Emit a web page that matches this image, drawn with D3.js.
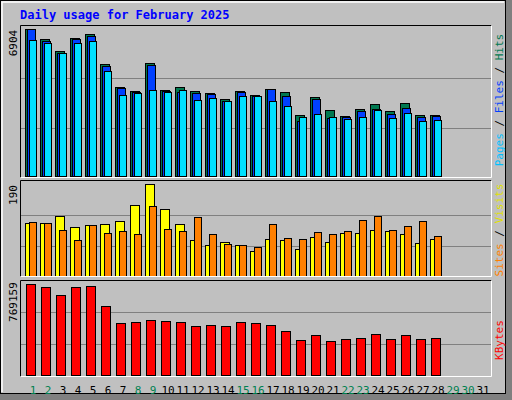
<!DOCTYPE html>
<html><head><meta charset="utf-8">
<script src="https://cdn.jsdelivr.net/npm/d3@7"></script>
<style>body{margin:0;background:#fff}svg{display:block}text{font-family:"DejaVu Sans Mono",monospace}</style>
</head><body><svg id="c" width="512" height="400"></svg>
<script>
const days = d3.range(1,32);
const weekendDays = [1,2,8,9,15,16,22,23,29,30];
const hits  = [6904,6438,5878,6484,6671,5271,4198,4012,5318,4058,4198,4012,3918,3639,4012,3825,4105,3965,2892,3732,3125,2846,3172,3405,3079,3452,2892,2892];
const files = [6904,6344,5785,6438,6578,5178,4152,3965,5225,4012,3965,3918,3872,3545,3965,3779,4105,3779,2612,3639,2752,2799,3079,3172,2939,3219,2799,2846];
const pages = [6391,6251,5785,6251,6344,4945,3825,3918,4058,3965,4058,3592,3685,3545,3779,3779,3545,3312,2799,2939,2799,2706,2799,3125,2752,2986,2612,2659];
const sites = [110,110,125,102,106,108,114,147,190,139,108,76,65,72,65,53,78,76,57,82,72,90,90,96,94,88,69,78];
const visits= [112,110,96,76,106,90,94,88,145,98,94,123,88,67,65,61,108,80,78,92,88,94,116,125,96,104,114,84];
const kbytes= [769159,744000,677000,744000,752000,585000,443000,451000,468000,460000,451000,418000,426000,418000,451000,443000,426000,376000,301000,343000,293000,309000,318000,351000,309000,343000,309000,318000];
const maxLabels = ["6904","190","769159"];

const svg = d3.select("#c");
// frame
svg.append("rect").attr("x",0).attr("y",0).attr("width",512).attr("height",400).attr("fill","#808080");
svg.append("rect").attr("x",0.5).attr("y",0.5).attr("width",505).attr("height",393).attr("fill","#c0c0c0").attr("stroke","#000");
svg.append("path").attr("d","M2,392V2H504").attr("fill","none").attr("stroke","#fff").attr("stroke-width",1.5);
svg.append("text").attr("x",20).attr("y",19).attr("fill","#0000ff").attr("font-weight","bold").attr("font-size",12).text("Daily usage for February 2025");

const x = d3.scaleLinear().domain([1,32]).range([25,490]); // bar left for day
function panel(top,bottom){
  svg.append("rect").attr("x",20.5).attr("y",top+0.5).attr("width",471).attr("height",bottom-top).attr("fill","#c0c0c0");
}
function frame(top,bottom){
  svg.append("path").attr("d",`M20.5,${bottom+0.5}V${top+0.5}H491.5`).attr("fill","none").attr("stroke","#000");
  svg.append("path").attr("d",`M491.5,${top+0.5}V${bottom+0.5}H20.5`).attr("fill","none").attr("stroke","#fff");
}
function grid(y,max){
  [max/3,2*max/3].forEach(v=>svg.append("line").attr("x1",21).attr("x2",491).attr("y1",Math.round(y(v))+0.5).attr("y2",Math.round(y(v))+0.5).attr("stroke","#808080"));
}
function bars(data,y,off,w,color){
  svg.append("g").selectAll("rect").data(data).join("rect")
    .attr("x",(d,i)=>x(i+1)+off+0.5).attr("y",d=>Math.round(y(d))+0.5)
    .attr("width",w).attr("height",d=>y(0)-Math.round(y(d))-1)
    .attr("fill",color).attr("stroke","#000");
}
function ylabel(txt,yc){
  svg.append("text").attr("transform",`translate(17,${yc}) rotate(-90)`).attr("text-anchor","middle").attr("font-size",11).attr("fill","#000").text(txt);
}
function sideLabel(parts,yc){
  const t = svg.append("text").attr("transform",`translate(503,${yc}) rotate(-90)`).attr("text-anchor","middle").attr("font-size",11);
  parts.forEach(p=>t.append("tspan").attr("fill",p[1]).text(p[0]));
}
// top
panel(25,177);
const y1 = d3.scaleLinear().domain([0,6904]).range([177,29]);
grid(y1,6904*1.0);
bars(hits,y1,0,9,"#007850");
bars(files,y1,2,8,"#0040ff");
bars(pages,y1,4,7,"#00e0ff");
frame(25,177);
ylabel(maxLabels[0],43);
sideLabel([["Pages","#00c0ff"],[" / ","#000"],["Files","#0040ff"],[" / ","#000"],["Hits","#007850"]],100);
// middle
panel(180,276);
const y2 = d3.scaleLinear().domain([0,190]).range([277,184]);
grid(y2,190);
bars(sites,y2,0,9,"#ffff00");
bars(visits,y2,4,7,"#ff8000");
frame(180,276);
ylabel(maxLabels[1],195);
sideLabel([["Sites","#ff8000"],[" / ","#000"],["Visits","#e0e000"]],230);
// bottom
panel(280,376);
const y3 = d3.scaleLinear().domain([0,769159]).range([376,284]);
grid(y3,769159*1.04);
bars(kbytes,y3,1,9,"#ff0000");
frame(280,376);
ylabel(maxLabels[2],302);
sideLabel([["KBytes","#ff0000"]],340);
// day labels
svg.append("g").selectAll("text").data(days).join("text")
  .attr("x",d=>x(d)+8).attr("y",394).attr("text-anchor","middle").attr("font-size",11)
  .attr("fill",d=>weekendDays.includes(d)?"#008050":"#000").text(d=>d);
</script></body></html>
